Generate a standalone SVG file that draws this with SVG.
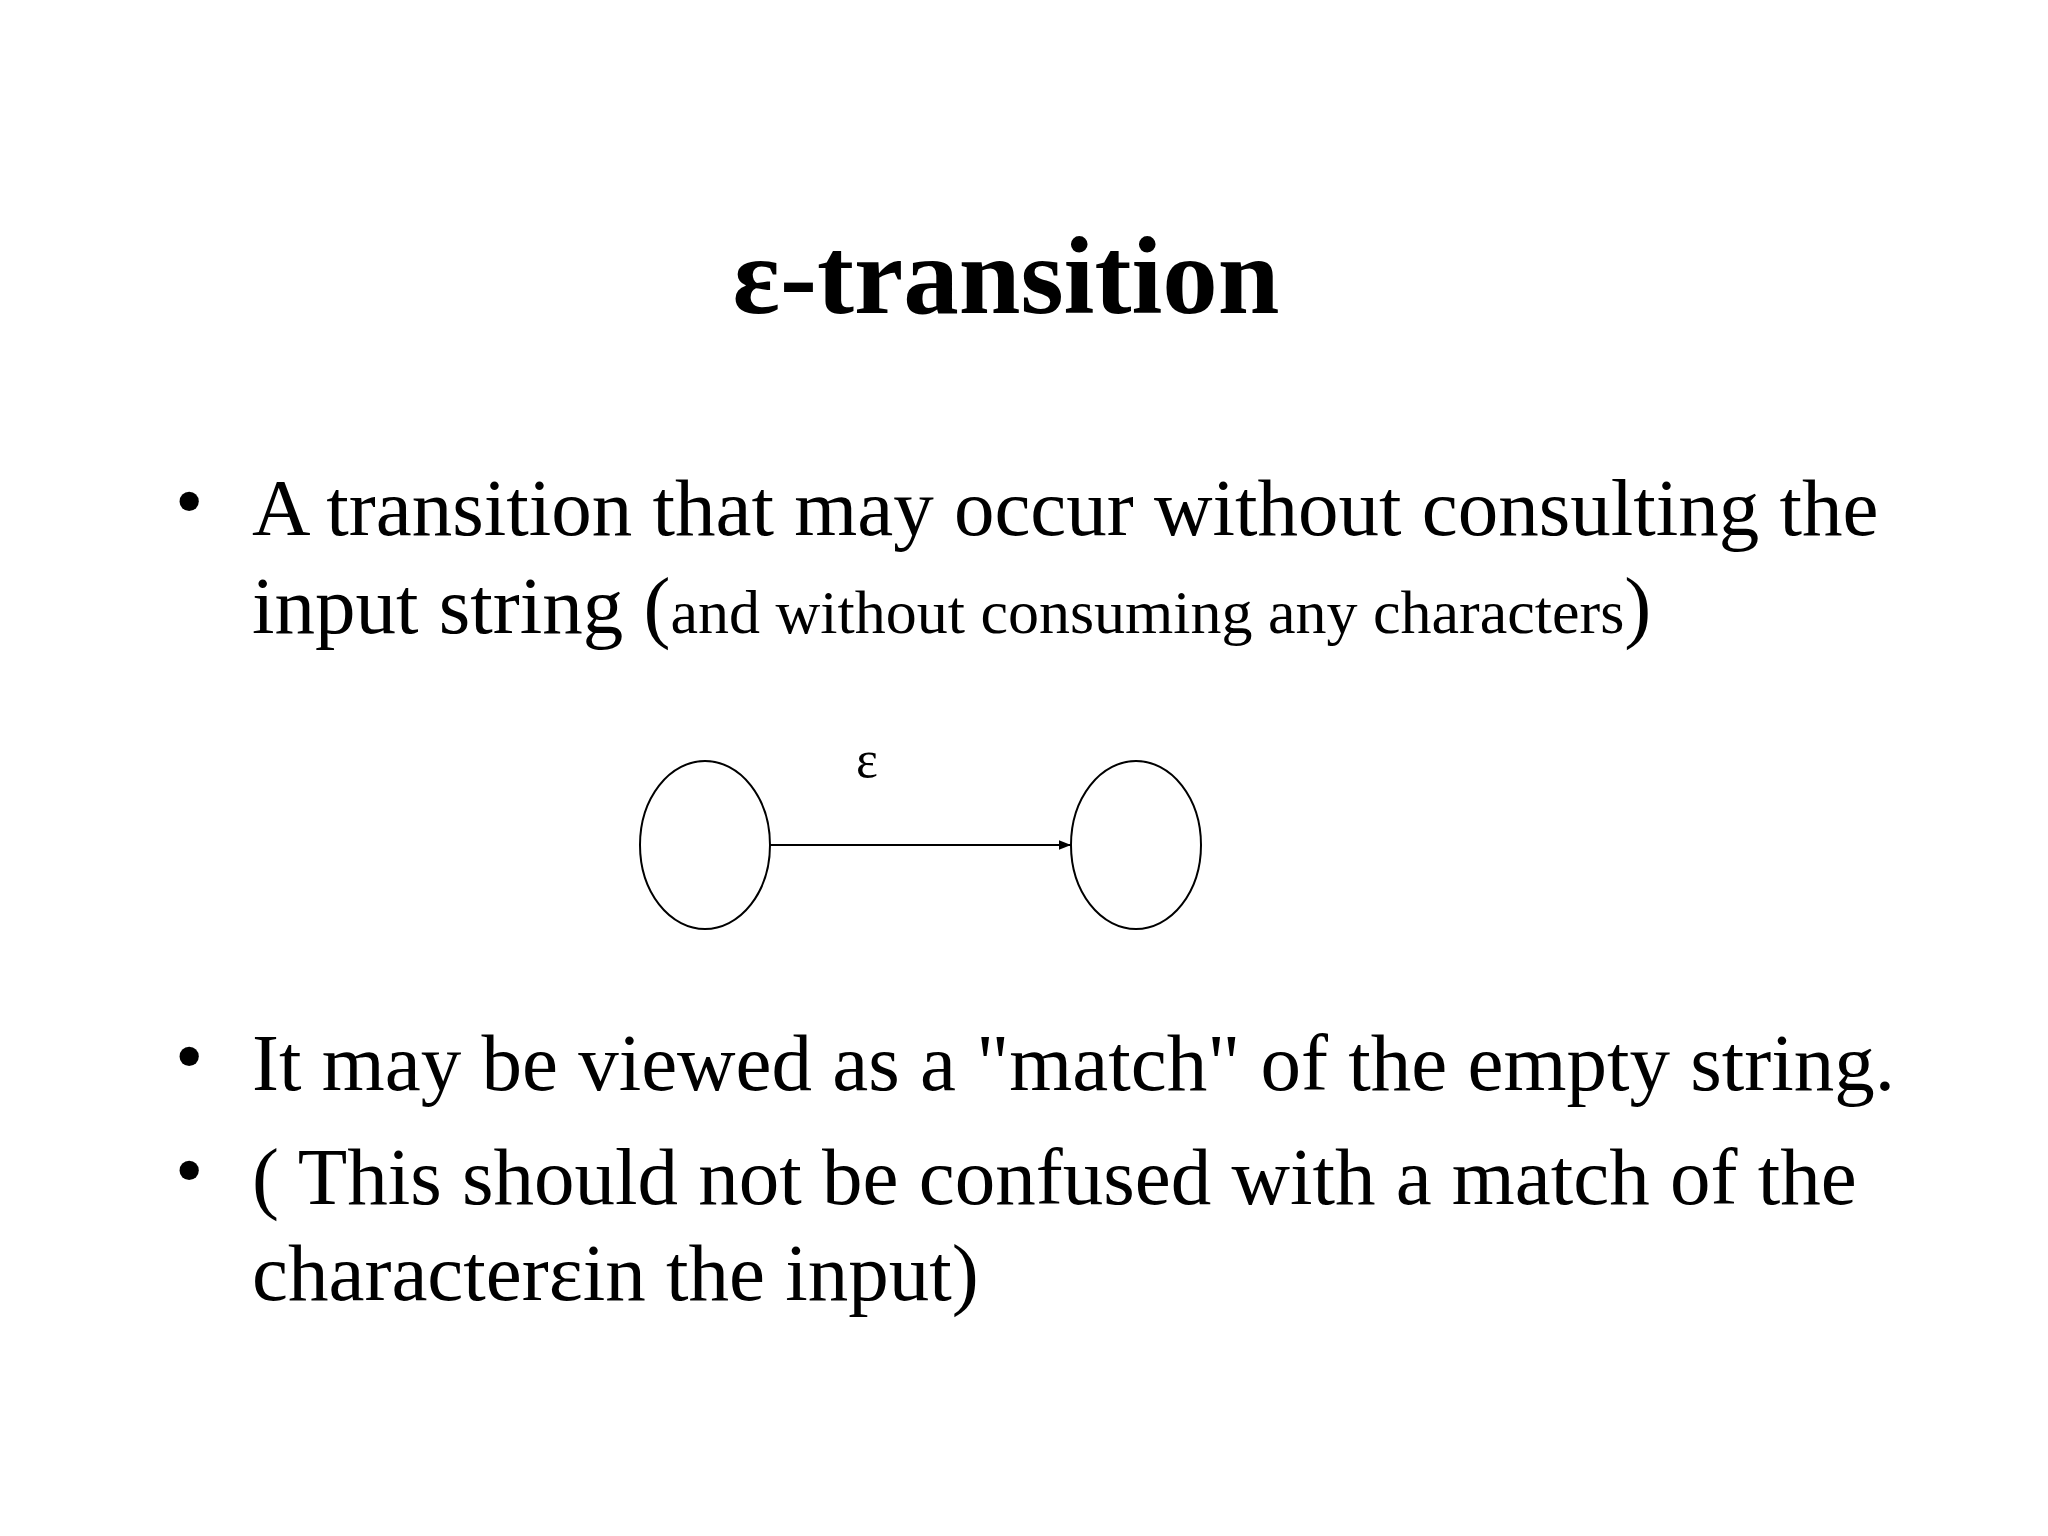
<svg xmlns="http://www.w3.org/2000/svg" width="2048" height="1536" viewBox="0 0 2048 1536">
<style>
.t{font-family:"Liberation Serif","Times New Roman",serif;fill:#000}
.b{font-size:81px}
.st{fill:#fff;stroke:#000;stroke-width:2}
</style>
<defs><marker id="ah" viewBox="0 0 10 10" refX="10" refY="5" markerWidth="12" markerHeight="12" markerUnits="userSpaceOnUse" orient="auto"><path d="M0,1 L10,5 L0,9 z" fill="#000"/></marker></defs>
<rect width="2048" height="1536" fill="#fff"/>
<text class="t" x="1006" y="313" font-size="111" font-weight="bold" text-anchor="middle">ε-transition</text>
<g class="t b">
<text x="175" y="528">•</text>
<text x="252" y="535">A transition that may occur without consulting the</text>
<text x="252" y="633">input string (<tspan font-size="62">and without consuming any characters</tspan>)</text>
<text x="175" y="1083">•</text>
<text x="252" y="1090">It may be viewed as a "match" of the empty string.</text>
<text x="175" y="1197">•</text>
<text x="252" y="1204">( This should not be confused with a match of the</text>
<text x="252" y="1300">characterεin the input)</text>
</g>
<g id="s1"><ellipse class="st" cx="705" cy="845" rx="65" ry="84"/></g>
<g id="s2"><ellipse class="st" cx="1136" cy="845" rx="65" ry="84"/></g>
<g id="edges"><line x1="770" y1="845" x2="1071" y2="845" stroke="#000" stroke-width="2" marker-end="url(#ah)"/>
<text class="t" x="867" y="777" font-size="52" text-anchor="middle">ε</text></g>
</svg>
